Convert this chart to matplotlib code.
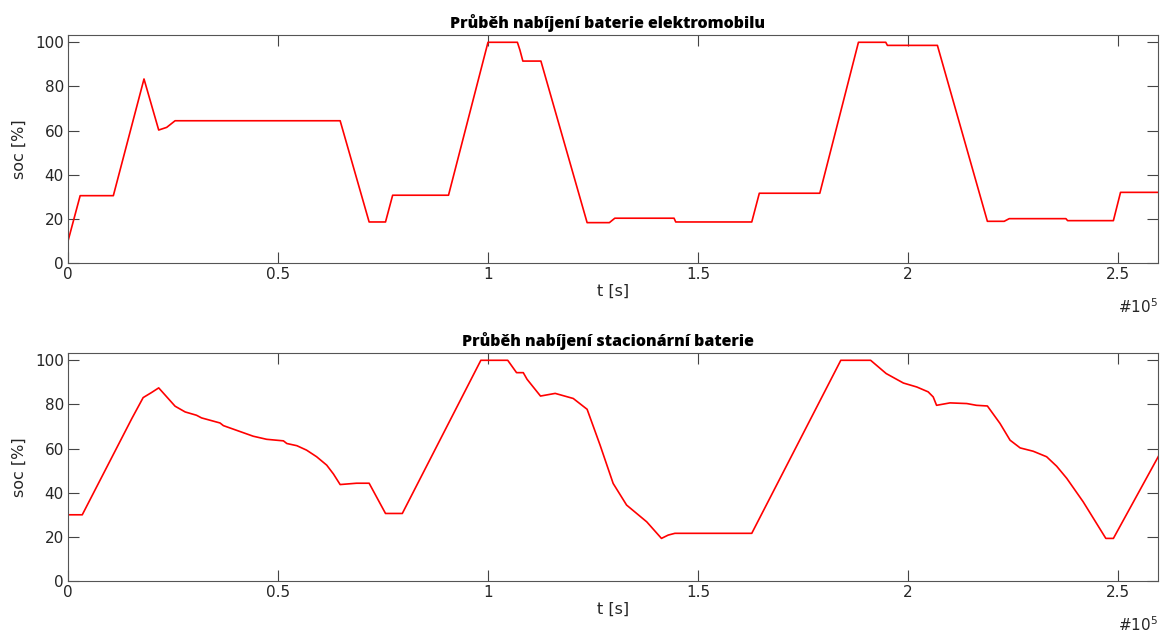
import matplotlib
matplotlib.use("Agg")
import matplotlib.pyplot as plt

# ---- data (t in 1e5 s, soc in %) ----
t_ev = [0.0, 0.029, 0.108, 0.181, 0.216, 0.235, 0.255, 0.648, 0.717, 0.756, 0.773,
        0.906, 1.0, 1.07, 1.076, 1.083, 1.126, 1.236, 1.289, 1.302, 1.443, 1.447,
        1.628, 1.646, 1.79, 1.882, 1.947, 1.951, 2.07, 2.189, 2.229, 2.241, 2.376,
        2.38, 2.489, 2.506, 2.6]
soc_ev = [10.0, 30.6, 30.6, 83.4, 60.3, 61.5, 64.5, 64.5, 18.7, 18.7, 30.8,
          30.8, 100.0, 100.0, 96.5, 91.5, 91.5, 18.4, 18.4, 20.4, 20.4, 18.7,
          18.7, 31.7, 31.7, 100.0, 100.0, 98.6, 98.6, 19.0, 19.0, 20.2, 20.2,
          19.3, 19.3, 32.1, 32.1]

t_st = [0.0, 0.034, 0.152, 0.179, 0.199, 0.216, 0.255, 0.279, 0.306, 0.318, 0.362,
        0.37, 0.441, 0.473, 0.513, 0.521, 0.545, 0.568, 0.592, 0.616, 0.632, 0.648,
        0.687, 0.717, 0.756, 0.796, 0.983, 1.047, 1.068, 1.084, 1.093, 1.125, 1.16,
        1.203, 1.236, 1.267, 1.298, 1.33, 1.378, 1.413, 1.429, 1.445, 1.628, 1.84,
        1.911, 1.948, 1.989, 2.021, 2.048, 2.06, 2.068, 2.1, 2.14, 2.163, 2.189,
        2.219, 2.243, 2.267, 2.298, 2.33, 2.354, 2.378, 2.417, 2.471, 2.489, 2.6]
soc_st = [30.0, 30.0, 73.6, 83.1, 85.4, 87.5, 79.2, 76.6, 75.1, 73.9, 71.6,
          70.4, 65.6, 64.2, 63.5, 62.3, 61.3, 59.3, 56.3, 52.5, 48.5, 43.7,
          44.3, 44.3, 30.6, 30.6, 100.0, 100.0, 94.4, 94.4, 91.4, 83.8, 85.0,
          82.7, 77.8, 61.5, 44.2, 34.4, 26.8, 19.3, 20.8, 21.6, 21.6, 100.0,
          100.0, 94.0, 89.7, 87.9, 85.7, 83.4, 79.6, 80.7, 80.4, 79.6, 79.3,
          71.4, 63.8, 60.3, 58.8, 56.3, 52.0, 46.5, 35.9, 19.3, 19.3, 57.8]

titles = ["Průběh nabíjení baterie elektromobilu", "Průběh nabíjení stacionární baterie"]
x_ticks = [0, 0.5, 1, 1.5, 2, 2.5]
x_ticklabels = ["0", "0.5", "1", "1.5", "2", "2.5"]
y_ticks = [0, 20, 40, 60, 80, 100]

TXT = "#262626"
plt.rcParams["font.family"] = ["DejaVu Sans"]

fig = plt.figure(figsize=(11.6, 6.34), dpi=100)
ax1 = fig.add_axes([0.0586, 0.5847, 0.9396, 0.3601])
ax2 = fig.add_axes([0.0586, 0.0836, 0.9396, 0.3596])

for ax, t, s, title in [(ax1, t_ev, soc_ev, titles[0]), (ax2, t_st, soc_st, titles[1])]:
    ax.plot(t, s, color="#ff0000", lw=1.2)
    ax.set_xlim(0, 2.595)
    ax.set_ylim(0, 103.3)
    ax.set_xticks(x_ticks)
    ax.set_xticklabels(x_ticklabels)
    ax.set_yticks(y_ticks)
    ax.tick_params(direction="in", length=8, width=0.8, colors="#444444",
                   labelcolor=TXT, labelsize=11, top=True, right=True, pad=3)
    for sp in ax.spines.values():
        sp.set_color("#555555")
        sp.set_linewidth(0.8)
    ax.set_title(title, family=["Open Sans", "DejaVu Sans"], fontweight="heavy",
                 fontsize=11.5, color="black", pad=5, x=0.495)
    ax.set_xlabel("t [s]", fontsize=11.5, color=TXT, labelpad=1)
    ax.set_ylabel("soc [%]", fontsize=11.5, color=TXT, labelpad=6)
    ax.text(1.0, -0.15, r"#10$^5$", transform=ax.transAxes, ha="right", va="top",
            fontsize=11, color=TXT)

fig.savefig("out.png", dpi=100)
